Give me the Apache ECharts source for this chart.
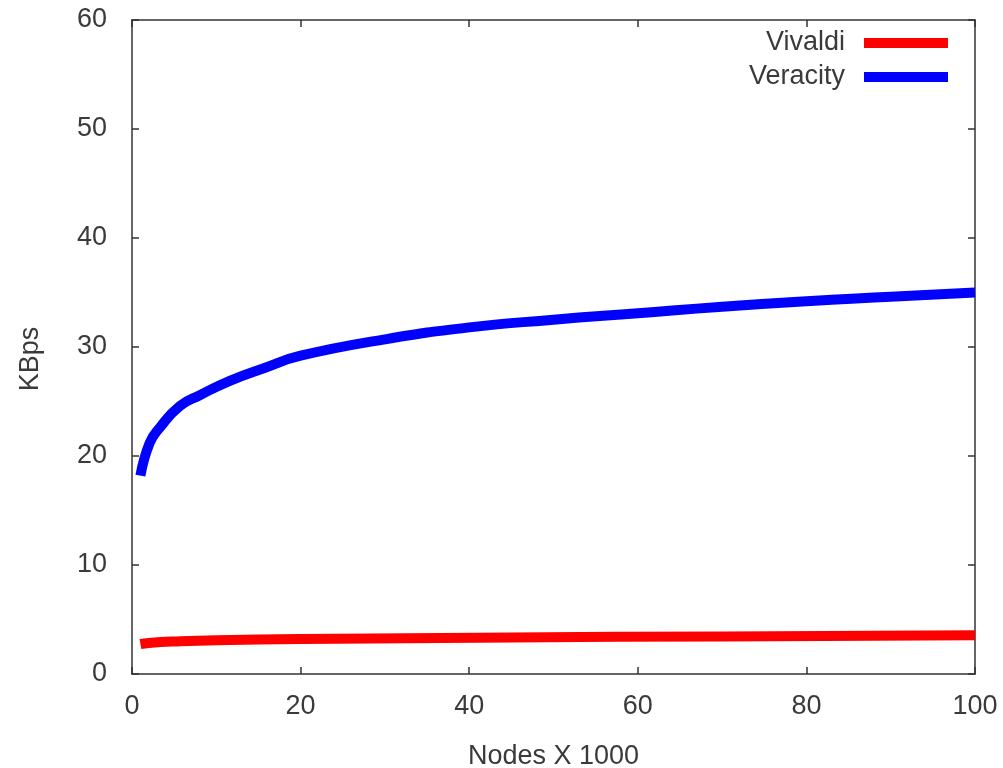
<!DOCTYPE html>
<html>
<head>
<meta charset="utf-8">
<script src="https://cdn.jsdelivr.net/npm/echarts@6/dist/echarts.min.js"></script>
<style>
  html, body { margin: 0; padding: 0; background: #fff; }
  #main { width: 1003px; height: 768px; }
</style>
</head>
<body>
<div id="main"></div>
<script>
// 数据
var vivaldiX = [1, 2, 5, 10, 20, 45, 70, 100];
var vivaldiY = [2.75, 2.85, 2.98, 3.1, 3.2, 3.35, 3.45, 3.55];
var veracityX = [1, 2.1, 3.3, 5.7, 8.1, 11.6, 15.8, 20, 30, 40, 50, 60, 70, 80, 90, 100];
var veracityY = [18.2, 21.2, 22.6, 24.6, 25.6, 26.9, 28.1, 29.2, 30.7, 31.8, 32.5, 33.1, 33.7, 34.2, 34.6, 35.0];

function pairs(xs, ys) {
  return xs.map(function (x, i) { return [x, ys[i]]; });
}

var fontFamily = '"Liberation Sans", Arial, sans-serif';
var textColor = '#3a3a3a';
var axisColor = '#333';
var red = '#ff0000', blue = '#0000ff';

var myChart = echarts.init(document.getElementById('main'));

// 四边框 + 内侧刻度（gnuplot 风格）
function axisBase(extra) {
  return Object.assign({
    splitLine: { show: false },
    axisLine: { show: true, onZero: false, lineStyle: { color: axisColor, width: 1.5 } },
    axisTick: { show: true, inside: true, length: 7, lineStyle: { color: axisColor, width: 1.5 } }
  }, extra);
}

var option = {
  animation: false,
  backgroundColor: '#fff',
  grid: { left: 132, right: 28, top: 20, bottom: 94, outerBoundsMode: 'none', containLabel: false },
  legend: {
    data: ['Vivaldi', 'Veracity'],
    orient: 'vertical',
    align: 'right',
    right: 50,
    top: 24,
    itemGap: 6,
    itemWidth: 84,
    itemHeight: 10,
    icon: 'rect',
    textStyle: { fontFamily: fontFamily, fontSize: 27, color: textColor, lineHeight: 28, padding: [0, 14, 0, 0] }
  },
  graphic: [{
    type: 'text',
    x: 31, y: 359,
    rotation: Math.PI / 2,
    style: { text: 'KBps', fontFamily: fontFamily, fontSize: 27, fill: textColor, align: 'center', verticalAlign: 'middle' }
  }],
  xAxis: [
    axisBase({
      type: 'value', min: 0, max: 100, interval: 20, position: 'bottom',
      name: 'Nodes X 1000',
      nameLocation: 'middle',
      nameGap: 69,
      nameTextStyle: { fontFamily: fontFamily, fontSize: 27, color: textColor },
      axisLabel: { margin: 19, fontFamily: fontFamily, fontSize: 27, color: textColor }
    }),
    axisBase({ type: 'value', min: 0, max: 100, interval: 20, position: 'top', axisLabel: { show: false } })
  ],
  yAxis: [
    axisBase({
      type: 'value', min: 0, max: 60, interval: 10, position: 'left',
      axisLabel: { margin: 25, fontFamily: fontFamily, fontSize: 27, color: textColor }
    }),
    axisBase({ type: 'value', min: 0, max: 60, interval: 10, position: 'right', axisLabel: { show: false } })
  ],
  series: [
    {
      name: 'Vivaldi', type: 'line', smooth: true, showSymbol: false,
      data: pairs(vivaldiX, vivaldiY),
      lineStyle: { color: red, width: 10 }, itemStyle: { color: red }
    },
    {
      name: 'Veracity', type: 'line', smooth: true, showSymbol: false,
      data: pairs(veracityX, veracityY),
      lineStyle: { color: blue, width: 10 }, itemStyle: { color: blue }
    }
  ]
};
myChart.setOption(option);
</script>
</body>
</html>
